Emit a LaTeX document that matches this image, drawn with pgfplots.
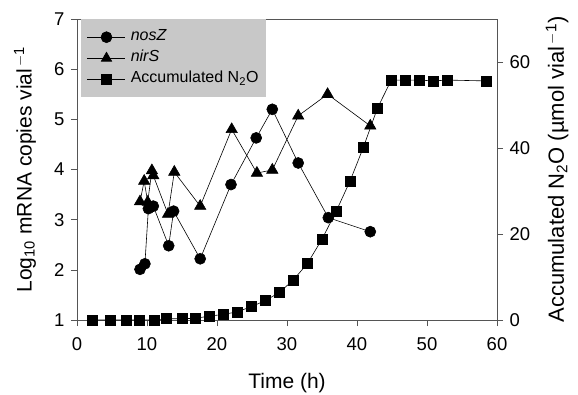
\documentclass[border=0pt]{standalone}
\usepackage{pgfplots}
\pgfplotsset{compat=1.18}
\usepackage{fontspec}
\setmainfont{Liberation Sans}
\definecolor{legfill}{HTML}{C8C8C8}
\definecolor{axcol}{HTML}{555555}
\begin{document}
\begin{tikzpicture}
\path[use as bounding box] (0,0) rectangle (578pt,394pt);
\pgfplotsset{
  common/.style={
    at={(77pt,74pt)}, anchor=south west,
    scale only axis, width=420pt, height=301pt,
    xmin=0, xmax=60,
    /pgf/number format/assume math mode=true,
    tick align=outside, major tick length=6pt,
    every tick/.style={axcol, line width=0.6pt},
    axis line style={axcol, line width=0.6pt},
    tick label style={font=\fontsize{18.5}{18.5}\selectfont},
    label style={font=\fontsize{21}{21}\selectfont},
  }
}
\begin{axis}[common,
  ymin=1, ymax=7, ytick={1,2,...,7},
  xtick={0,10,...,60},
  axis x line*=bottom, axis y line*=left,
  xticklabel style={yshift=-8pt},
  yticklabel style={xshift=-3pt},
  xlabel={Time (h)},
  ylabel={Log$_{\mathrm{10}}$ mRNA copies vial$^{\,\mathrm{-1}}$},
  xlabel style={at={(axis description cs:0.5,-0.209)}, anchor=center},
  ylabel style={at={(axis description cs:-0.124,0.5)}, anchor=center},
]
\addplot[black, line width=0.6pt, mark=*, mark size=5.5pt] coordinates {
(9.0,2.01)(9.7,2.12)(10.2,3.22)(10.9,3.27)(13.1,2.48)(13.8,3.17)(17.6,2.22)(22.0,3.70)(25.6,4.63)(27.9,5.20)(31.6,4.13)(35.9,3.04)(41.9,2.76)};
\addplot[black, line width=0.6pt, mark=triangle*, mark size=6.5pt] coordinates {
(9.0,3.36)(9.6,3.77)(10.1,3.35)(10.7,3.98)(10.9,3.88)(13.0,3.11)(13.9,3.95)(17.6,3.27)(22.1,4.80)(25.7,3.93)(27.9,3.99)(31.6,5.07)(35.8,5.50)(41.9,4.87)};
\end{axis}
\begin{axis}[common,
  ymin=0, ymax=70, ytick={0,20,40,60},
  xtick=\empty,
  axis x line*=top, axis y line*=right,
  yticklabel style={xshift=3pt},
  ylabel={Accumulated N$_{\mathrm{2}}$O (\textmu mol vial$^{\,\mathrm{-1}}$)},
  ylabel style={at={(axis description cs:1.143,0.5)}, anchor=center, font=\fontsize{22}{22}\selectfont},
  legend image code/.code={\draw[mark repeat=2,mark phase=2,#1] plot coordinates {(0pt,0pt) (19pt,0pt) (38pt,0pt)};},
  legend style={at={(rel axis cs:0.0095,1)}, anchor=north west, fill=legfill, draw=none,
    font=\fontsize{16}{16}\selectfont, row sep=1pt, column sep=3pt, inner xsep=6pt, inner ysep=8pt,
    nodes={text height=11.5pt, text depth=4.5pt, inner ysep=2pt}},
  legend cell align=left,
]
\addlegendimage{black, line width=0.6pt, mark=*, mark size=5.5pt}
\addlegendentry{\textit{nosZ}}
\addlegendimage{black, line width=0.6pt, mark=triangle*, mark size=6pt}
\addlegendentry{\textit{nirS}}
\addplot[black, line width=0.6pt, mark=square*, mark size=5pt] coordinates {
(2.2,0)(4.8,0)(7.0,0)(8.9,0)(11.0,0)(12.8,0.3)(15.0,0.3)(16.9,0.4)(18.9,0.9)(20.9,1.3)(22.9,1.9)(24.9,3.1)(26.9,4.5)(28.9,6.4)(30.9,9.3)(32.9,13.1)(35.0,18.8)(37.0,25.2)(39.0,32.3)(40.9,40.1)(42.9,49.2)(44.9,55.8)(46.9,55.8)(48.9,55.8)(50.9,55.6)(52.9,55.8)(58.4,55.6)};
\addlegendentry{Accumulated N$_{\mathrm{2}}$O\hspace{6pt}}
\end{axis}
\end{tikzpicture}
\end{document}
